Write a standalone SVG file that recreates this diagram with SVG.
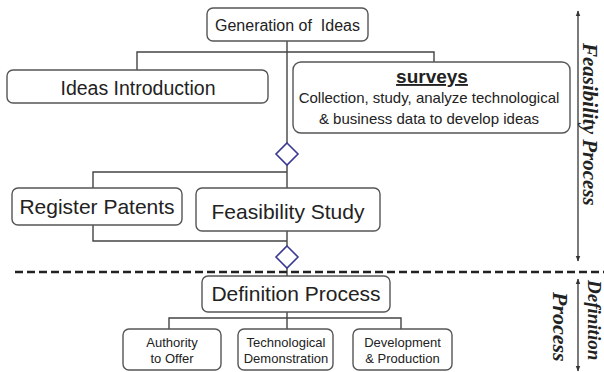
<svg xmlns="http://www.w3.org/2000/svg" width="604" height="372" viewBox="0 0 604 372">
<style>
.box{fill:#fff;stroke:#555;stroke-width:1.4}
.ln{fill:none;stroke:#444;stroke-width:1.4}
.dia{fill:#fff;stroke:#3a3a94;stroke-width:1.6}
.t{font-family:"Liberation Sans",Arial,sans-serif;fill:#222;text-anchor:middle}
.side{font-family:"Liberation Serif","Times New Roman",serif;font-style:italic;font-weight:bold;fill:#222}
</style>
<defs>
<marker id="ah" viewBox="0 0 10 10" refX="9" refY="5" markerWidth="6" markerHeight="6" orient="auto-start-reverse" markerUnits="userSpaceOnUse">
<path d="M0,1 L10,5 L0,9 Z" fill="#333"/>
</marker>
</defs>
<rect width="604" height="372" fill="#fff"/>
<g id="connectors">
<path class="ln" d="M287,41 V143 M137,70 V52 H434 V62 M287,165 V188 M93,188 V172 H287 M287,231 V246 M93,225 V241 H287 M287,268 V276 M287,312 V329 M169,329 V318 H401 V329"/>
<line x1="15" y1="272" x2="604" y2="272" stroke="#222" stroke-width="2.4" stroke-dasharray="8 4"/>
<line x1="578" y1="11" x2="578" y2="261" stroke="#333" stroke-width="1.3" marker-start="url(#ah)" marker-end="url(#ah)"/>
<line x1="578" y1="279" x2="578" y2="371" stroke="#333" stroke-width="1.3" marker-start="url(#ah)" marker-end="url(#ah)"/>
</g>
<g id="generation">
<rect class="box" x="207" y="8" width="161" height="33" rx="6"/>
<text class="t" x="287.5" y="31" font-size="16" xml:space="preserve">Generation of  Ideas</text>
</g>
<g id="ideas-introduction">
<rect class="box" x="7" y="70" width="261" height="33" rx="6"/>
<text class="t" x="138" y="95" font-size="19.5">Ideas Introduction</text>
</g>
<g id="surveys">
<rect class="box" x="293" y="62" width="277" height="71" rx="8"/>
<text class="t" x="432" y="83" font-size="19" font-weight="bold" text-decoration="underline">surveys</text>
<text class="t" x="429" y="103" font-size="15">Collection, study, analyze technological</text>
<text class="t" x="429" y="124" font-size="15">&amp; business data to develop ideas</text>
</g>
<g id="decision-1">
<polygon class="dia" points="287,143 298,154 287,165 276,154"/>
</g>
<g id="register-patents">
<rect class="box" x="12" y="188" width="170" height="37" rx="6"/>
<text class="t" x="97" y="214" font-size="21">Register Patents</text>
</g>
<g id="feasibility-study">
<rect class="box" x="196" y="188" width="184" height="43" rx="6"/>
<text class="t" x="288" y="219" font-size="21">Feasibility Study</text>
</g>
<g id="decision-2">
<polygon class="dia" points="287,246 298,257 287,268 276,257"/>
</g>
<g id="definition-process">
<rect class="box" x="202" y="276" width="188" height="36" rx="6"/>
<text class="t" x="296" y="301" font-size="21">Definition Process</text>
</g>
<g id="authority">
<rect class="box" x="123" y="329" width="98" height="41" rx="6"/>
<text class="t" x="172" y="347" font-size="13">Authority</text>
<text class="t" x="172" y="363" font-size="13">to Offer</text>
</g>
<g id="technological">
<rect class="box" x="238" y="329" width="95" height="41" rx="6"/>
<text class="t" x="286" y="347" font-size="13">Technological</text>
<text class="t" x="286" y="363" font-size="13">Demonstration</text>
</g>
<g id="development">
<rect class="box" x="353" y="329" width="99" height="41" rx="6"/>
<text class="t" x="402.5" y="347" font-size="13">Development</text>
<text class="t" x="402.5" y="363" font-size="13">&amp; Production</text>
</g>
<g id="side-labels">
<text class="side" font-size="21" transform="translate(583,43) rotate(90)">Feasibility Process</text>
<text class="side" font-size="19" transform="translate(588,280) rotate(90)">Definition</text>
<text class="side" font-size="22" transform="translate(553,292) rotate(90)">Process</text>
</g>
</svg>
